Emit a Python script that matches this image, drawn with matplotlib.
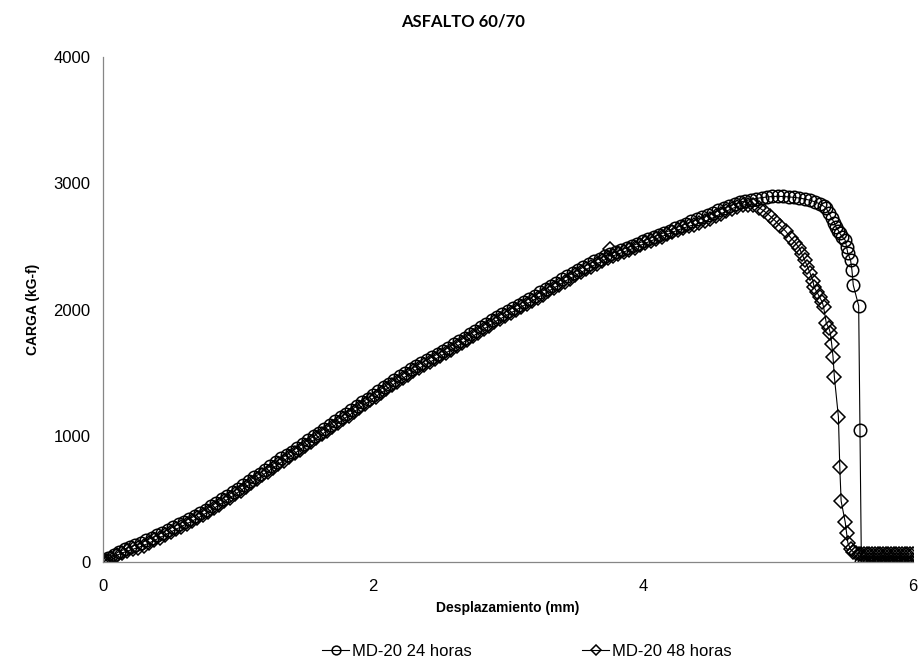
import matplotlib
matplotlib.use("Agg")
import matplotlib.pyplot as plt

plt.rcParams['font.family'] = ['Liberation Sans', 'DejaVu Sans']

# MD-20 24 horas: desplazamiento (mm) / carga (kG-f)
x24 = [0.00, 0.02, 0.04, 0.08, 0.12, 0.16, 0.20, 0.24, 0.28, 0.32, 0.36, 0.40,
       0.44, 0.48, 0.52, 0.56, 0.60, 0.64, 0.68, 0.72, 0.76, 0.80, 0.84, 0.88,
       0.92, 0.96, 1.00, 1.04, 1.08, 1.12, 1.16, 1.20, 1.24, 1.28, 1.32, 1.36,
       1.40, 1.44, 1.48, 1.52, 1.56, 1.60, 1.64, 1.68, 1.72, 1.76, 1.80, 1.84,
       1.88, 1.92, 1.96, 2.00, 2.04, 2.08, 2.12, 2.16, 2.20, 2.24, 2.28, 2.32,
       2.36, 2.40, 2.44, 2.48, 2.52, 2.56, 2.60, 2.64, 2.68, 2.72, 2.76, 2.80,
       2.84, 2.88, 2.92, 2.96, 3.00, 3.04, 3.08, 3.12, 3.16, 3.20, 3.24, 3.28,
       3.32, 3.36, 3.40, 3.44, 3.48, 3.52, 3.56, 3.60, 3.64, 3.68, 3.72, 3.76,
       3.80, 3.84, 3.88, 3.92, 3.96, 4.00, 4.04, 4.08, 4.12, 4.16, 4.20, 4.24,
       4.28, 4.32, 4.36, 4.40, 4.44, 4.48, 4.52, 4.56, 4.60, 4.64, 4.68, 4.72,
       4.76, 4.80, 4.84, 4.88, 4.92, 4.96, 5.00, 5.04, 5.08, 5.12, 5.16, 5.20,
       5.24, 5.28, 5.31, 5.34, 5.36, 5.38, 5.40, 5.42, 5.43, 5.45, 5.46, 5.48,
       5.50, 5.51, 5.52, 5.54, 5.55, 5.56, 5.60, 5.61, 5.62, 5.64, 5.66, 5.68,
       5.70, 5.72, 5.74, 5.76, 5.78, 5.80, 5.82, 5.84, 5.86, 5.88, 5.90, 5.92,
       5.94, 5.96, 5.98, 6.00]
y24 = [0, 12, 30, 58, 82, 100, 118, 134, 150, 170, 190, 210,
       232, 254, 276, 298, 320, 342, 364, 388, 414, 440, 468, 496,
       524, 552, 580, 610, 640, 670, 700, 730, 760, 790, 820, 848,
       875, 905, 935, 965, 995, 1025, 1055, 1085, 1115, 1145, 1175, 1205,
       1235, 1265, 1295, 1325, 1355, 1385, 1414, 1442, 1470, 1498, 1526, 1552,
       1576, 1600, 1624, 1648, 1672, 1698, 1725, 1751, 1777, 1803, 1831, 1860,
       1888, 1916, 1942, 1966, 1990, 2014, 2038, 2062, 2086, 2110, 2136, 2162,
       2188, 2214, 2240, 2264, 2288, 2312, 2336, 2360, 2382, 2404, 2424, 2440,
       2456, 2472, 2488, 2504, 2522, 2540, 2558, 2576, 2594, 2610, 2626, 2644,
       2662, 2680, 2698, 2715, 2733, 2751, 2769, 2787, 2805, 2820, 2836, 2850,
       2862, 2872, 2880, 2887, 2892, 2896, 2897, 2896, 2893, 2889, 2884, 2876,
       2866, 2852, 2838, 2820, 2801, 2765, 2722, 2688, 2656, 2625, 2603, 2575,
       2550, 2497, 2445, 2392, 2313, 2194, 2030, 1045, 0, 0, 0, 0,
       0, 0, 0, 0, 0, 0, 0, 0, 0, 0, 0, 0,
       0, 0, 0, 0]

# MD-20 48 horas
x48 = [0.00, 0.01, 0.02, 0.06, 0.10, 0.14, 0.18, 0.22, 0.26, 0.30, 0.34, 0.38,
       0.42, 0.46, 0.50, 0.54, 0.58, 0.62, 0.66, 0.70, 0.74, 0.78, 0.82, 0.86,
       0.90, 0.94, 0.98, 1.02, 1.06, 1.10, 1.14, 1.18, 1.22, 1.26, 1.30, 1.34,
       1.38, 1.42, 1.46, 1.50, 1.54, 1.58, 1.62, 1.66, 1.70, 1.74, 1.78, 1.82,
       1.86, 1.90, 1.94, 1.98, 2.02, 2.06, 2.10, 2.14, 2.18, 2.22, 2.26, 2.30,
       2.34, 2.38, 2.42, 2.46, 2.50, 2.54, 2.58, 2.62, 2.66, 2.70, 2.74, 2.78,
       2.82, 2.86, 2.90, 2.94, 2.98, 3.02, 3.06, 3.10, 3.14, 3.18, 3.22, 3.26,
       3.30, 3.34, 3.38, 3.42, 3.46, 3.50, 3.54, 3.58, 3.62, 3.66, 3.70, 3.74,
       3.76, 3.78, 3.82, 3.86, 3.90, 3.94, 3.98, 4.02, 4.06, 4.10, 4.14, 4.18,
       4.22, 4.26, 4.30, 4.34, 4.38, 4.42, 4.46, 4.50, 4.54, 4.58, 4.62, 4.66,
       4.70, 4.74, 4.78, 4.82, 4.86, 4.90, 4.94, 4.98, 5.02, 5.06, 5.10, 5.13,
       5.16, 5.18, 5.20, 5.22, 5.24, 5.26, 5.27, 5.29, 5.31, 5.33, 5.34, 5.36,
       5.38, 5.39, 5.40, 5.41, 5.42, 5.45, 5.46, 5.47, 5.50, 5.51, 5.52, 5.54,
       5.56, 5.58, 5.60, 5.62, 5.64, 5.66, 5.68, 5.70, 5.72, 5.74, 5.76, 5.78,
       5.80, 5.82, 5.84, 5.86, 5.88, 5.90, 5.92, 5.94, 5.96, 5.98, 6.00]
y48 = [0, 5, 10, 35, 52, 70, 85, 100, 114, 130, 150, 170,
       192, 214, 236, 258, 280, 302, 324, 346, 372, 398, 424, 452,
       480, 508, 536, 566, 596, 625, 655, 685, 715, 745, 775, 803,
       831, 860, 890, 920, 950, 980, 1010, 1040, 1070, 1100, 1130, 1160,
       1190, 1220, 1250, 1280, 1310, 1340, 1370, 1399, 1427, 1455, 1483, 1510,
       1534, 1558, 1582, 1606, 1630, 1656, 1682, 1708, 1734, 1760, 1788, 1816,
       1845, 1873, 1900, 1924, 1948, 1972, 1996, 2020, 2044, 2068, 2093, 2119,
       2145, 2171, 2197, 2222, 2246, 2270, 2294, 2318, 2341, 2363, 2385, 2405,
       2478, 2425, 2441, 2457, 2473, 2490, 2508, 2526, 2544, 2560, 2578, 2596,
       2612, 2630, 2645, 2660, 2672, 2684, 2698, 2716, 2738, 2760, 2780, 2800,
       2815, 2828, 2832, 2825, 2808, 2780, 2745, 2705, 2662, 2620, 2565, 2530,
       2487, 2440, 2392, 2340, 2289, 2230, 2178, 2140, 2099, 2060, 2020, 1893,
       1850, 1814, 1727, 1624, 1465, 1148, 752, 483, 317, 230, 150, 100,
       80, 70, 66, 64, 65, 63, 66, 64, 65, 63, 66, 64,
       65, 63, 66, 64, 65, 63, 66, 64, 65, 63, 66]

fig = plt.figure(figsize=(9.2, 6.65), dpi=100)
ax = fig.add_axes([0.112, 0.155, 0.880, 0.759])

ax.plot(x24, y24, color='black', lw=0.8, marker='o', ms=9, mfc='none',
        mec='black', mew=1.1, label='MD-20 24 horas')
ax.plot(x48, y48, color='black', lw=0.8, marker='D', ms=7, mfc='none',
        mec='black', mew=1.1, label='MD-20 48 horas')

ax.set_xlim(0, 6)
ax.set_ylim(0, 4000)
ax.set_xticks([0, 2, 4, 6])
ax.set_yticks([0, 1000, 2000, 3000, 4000])
ax.tick_params(length=0, labelsize=12)
ax.tick_params(axis='x', pad=12)
ax.tick_params(axis='y', pad=9)
for s in ['top', 'right']:
    ax.spines[s].set_visible(False)
for s in ['left', 'bottom']:
    ax.spines[s].set_color('#868686')
    ax.spines[s].set_linewidth(0.9)

ax.set_xlabel('Desplazamiento (mm)', fontsize=10, fontweight='bold', labelpad=5)
ax.set_ylabel('CARGA (kG-f)', fontsize=10, fontweight='bold', labelpad=10)
fig.text(0.503, 0.967, 'ASFALTO 60/70', ha='center', va='center',
         fontsize=12, fontweight='bold', family=['Lato', 'DejaVu Sans'])

fig.legend(loc='center', bbox_to_anchor=(0.573, 0.021), ncol=2, frameon=False,
           fontsize=12, handlelength=1.6, handletextpad=0.2,
           columnspacing=6.6, markerscale=0.7)

fig.savefig('out.png', dpi=100)
